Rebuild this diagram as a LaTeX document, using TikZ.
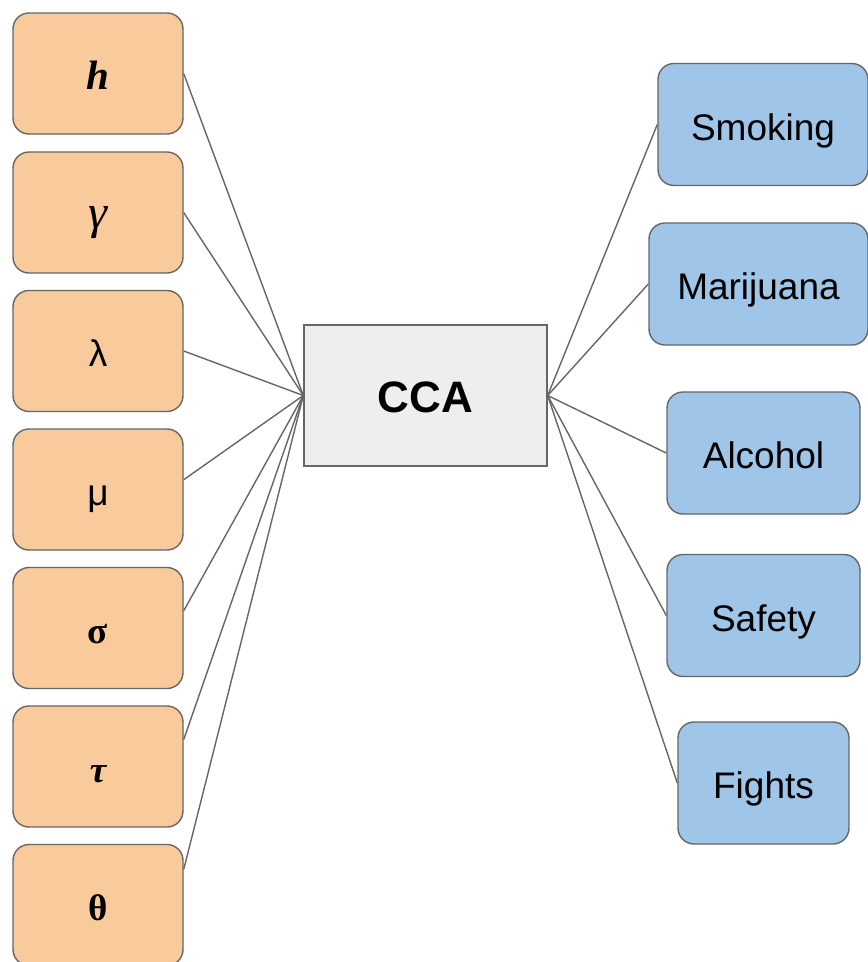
\documentclass[tikz,border=0pt]{standalone}
\usepackage{fontspec}
\setmainfont{Liberation Sans}
\newfontfamily\serifgreek{Liberation Serif}
\usetikzlibrary{calc}
\definecolor{orfill}{HTML}{F9CB9C}
\definecolor{blfill}{HTML}{9FC5E8}
\definecolor{ccafill}{HTML}{EEEEEE}
\definecolor{edgegray}{HTML}{666666}
\tikzset{
  x=1pt, y=-1pt,
  base/.style={draw=edgegray, line width=1.4pt, inner sep=0pt, font=\fontsize{37}{40}\selectfont, text height=31pt, text depth=0pt},
  leftbox/.style={base, fill=orfill, rounded corners=16pt, minimum width=170pt, minimum height=121pt},
  rightbox/.style={base, fill=blfill, rounded corners=16pt, minimum height=122pt},
  ccabox/.style={base, fill=ccafill, minimum width=243pt, minimum height=141pt, font=\fontsize{44}{48}\selectfont\bfseries, text height=33pt},
  link/.style={draw=edgegray, line width=1.4pt}
}
\begin{document}
\begin{tikzpicture}
\useasboundingbox (0,0) rectangle (868,962);
% left boxes
\node[leftbox] (b1) at (98,73.5) {\serifgreek\fontsize{41}{44}\selectfont\bfseries\itshape h};
\node[leftbox] (b2) at (98,212.5) {\serifgreek\fontsize{48}{50}\selectfont\itshape γ};
\node[leftbox] (b3) at (98,351) {λ};
\node[leftbox] (b4) at (98,489.5) {μ};
\node[leftbox] (b5) at (98,628) {\serifgreek\bfseries σ};
\node[leftbox] (b6) at (98,766.5) {\serifgreek\bfseries\itshape τ};
\node[leftbox] (b7) at (98,905) {\serifgreek\bfseries θ};
% center
\node[ccabox] (cca) at (425.5,395.5) {CCA};
% right boxes
\node[rightbox, minimum width=210pt] (r1) at (763,124.5) {Smoking};
\node[rightbox, minimum width=219pt] (r2) at (758.5,284) {Marijuana};
\node[rightbox, minimum width=193pt] (r3) at (763.5,453) {Alcohol};
\node[rightbox, minimum width=193pt] (r4) at (763.5,615.5) {Safety};
\node[rightbox, minimum width=171pt] (r5) at (763.5,783) {Fights};
% connectors
\draw[link] (b1.east) -- (cca.west);
\draw[link] (b2.east) -- (cca.west);
\draw[link] (b3.east) -- (cca.west);
\draw[link] ($(b4.north east)!0.42!(b4.south east)$) -- (cca.west);
\draw[link] ($(b5.north east)!0.36!(b5.south east)$) -- (cca.west);
\draw[link] ($(b6.north east)!0.28!(b6.south east)$) -- (cca.west);
\draw[link] ($(b7.north east)!0.21!(b7.south east)$) -- (cca.west);
\draw[link] (cca.east) -- (r1.west);
\draw[link] (cca.east) -- (r2.west);
\draw[link] (cca.east) -- (r3.west);
\draw[link] (cca.east) -- (r4.west);
\draw[link] (cca.east) -- (r5.west);
\end{tikzpicture}
\end{document}
